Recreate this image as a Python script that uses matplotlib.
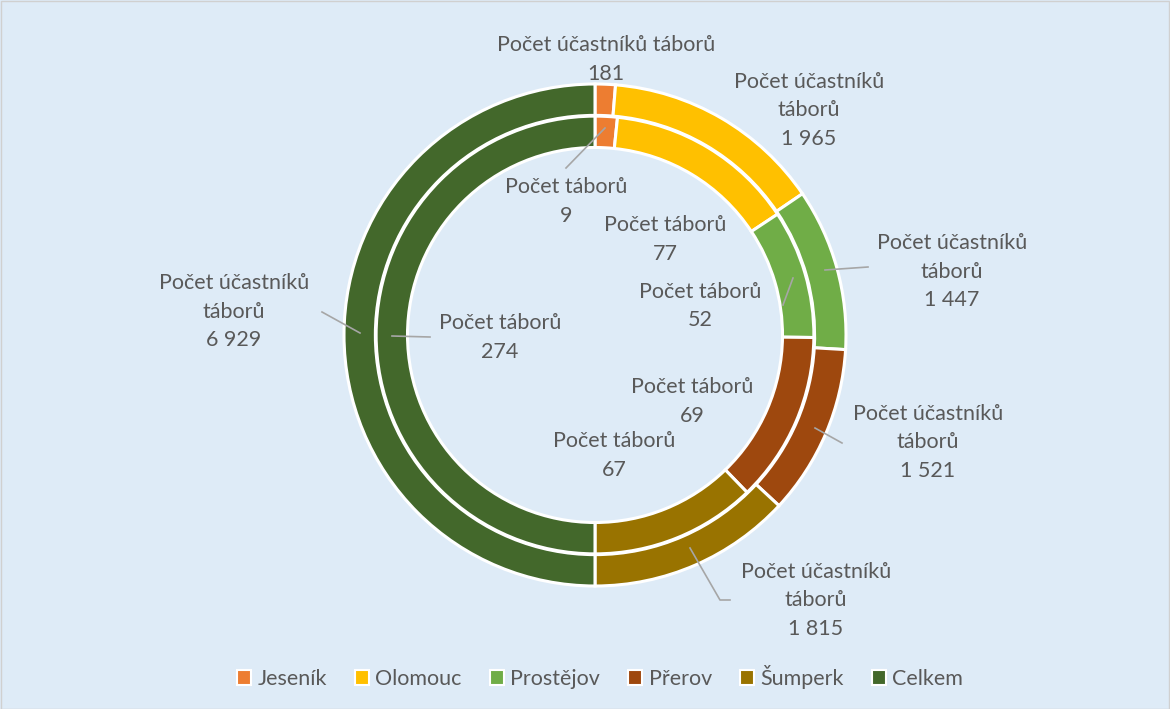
import matplotlib.pyplot as plt
from matplotlib.patches import Rectangle

regions = ["Jeseník", "Olomouc", "Prostějov", "Přerov", "Šumperk", "Celkem"]
ucastnici = [181, 1965, 1447, 1521, 1815, 6929]
tabory = [9, 77, 52, 69, 67, 274]
colors = ["#ED7D31", "#FFC000", "#70AD47", "#9E480E", "#997300", "#43682B"]

outer_name = "Počet účastníků táborů"
inner_name = "Počet táborů"

# label placement (pixel centre of first line), wrapped or not, leader line points
outer_pos = [(606, 45, False, None),
             (809, 82, True, None),
             (952, 243, True, [(825, 270), (868, 267)]),
             (928, 414, True, [(815, 428), (842, 443)]),
             (816, 572, True, [(690, 548), (720, 600), (730, 600)]),
             (234, 283, True, [(322, 312), (360, 333)])]
inner_pos = [(566, 187, [(605, 128), (566, 168)]),
             (665, 225, None),
             (700, 292, [(793, 278), (783, 305)]),
             (692, 387, None),
             (614, 441, None),
             (500, 323, [(392, 336), (430, 337)])]

W, H = 1170, 709
CX, CY, R = 595, 335, 251
bg = "#DEEBF7"
txt = "#595959"
plt.rcParams["font.family"] = ["Lato", "DejaVu Sans"]

fig = plt.figure(figsize=(W / 100, H / 100), dpi=100)
fig.patch.set_facecolor(bg)
fig.patches.append(Rectangle((0.5 / W, 0.5 / H), 1 - 1.5 / W, 1 - 1.5 / H, transform=fig.transFigure,
                             fill=False, edgecolor="#D0D0D0", linewidth=1))
ax = fig.add_axes([(CX - R) / W, (H - CY - R) / H, 2 * R / W, 2 * R / H])
ax.set_xlim(-1, 1)
ax.set_ylim(-1, 1)
ax.set_aspect("equal")
ax.axis("off")

def px(p):
    return ((p[0] - CX) / R, (CY - p[1]) / R)

ax.pie(ucastnici, radius=1.0, colors=colors, startangle=90, counterclock=False,
       wedgeprops=dict(width=0.125, edgecolor="white", linewidth=2.2))
ax.pie(tabory, radius=0.872, colors=colors, startangle=90, counterclock=False,
       wedgeprops=dict(width=0.125, edgecolor="white", linewidth=2.2))
ax.set_xlim(-1, 1)
ax.set_ylim(-1, 1)

def fmt(v):
    return f"{v:,}".replace(",", " ")

fs = 15.5
lh = 28.5
for v, (x, y, wrap, lead) in zip(ucastnici, outer_pos):
    if wrap:
        lines = ["Počet účastníků", "táborů", fmt(v)]
    else:
        lines = [outer_name, fmt(v)]
    for i, s in enumerate(lines):
        ax.text(*px((x, y + i * lh)), s, ha="center", va="center", fontsize=fs, color=txt)
    if lead:
        pts = [px(p) for p in lead]
        ax.plot([p[0] for p in pts], [p[1] for p in pts], color="#A6A6A6", lw=1.2, clip_on=False)

for v, (x, y, lead) in zip(tabory, inner_pos):
    for i, s in enumerate([inner_name, fmt(v)]):
        ax.text(*px((x, y + i * lh)), s, ha="center", va="center", fontsize=fs, color=txt)
    if lead:
        pts = [px(p) for p in lead]
        ax.plot([p[0] for p in pts], [p[1] for p in pts], color="#A6A6A6", lw=1.2, clip_on=False)

handles = [Rectangle((0, 0), 1, 1, facecolor=c, edgecolor="white", linewidth=1.5) for c in colors]
fig.legend(handles, regions, loc="center", bbox_to_anchor=(600 / W, 1 - 677 / H), ncol=6,
           frameon=False, fontsize=15.5, labelcolor=txt, handlelength=0.65, handleheight=0.65,
           handletextpad=0.3, columnspacing=1.3)

fig.savefig("out.png", dpi=100, facecolor=bg)
